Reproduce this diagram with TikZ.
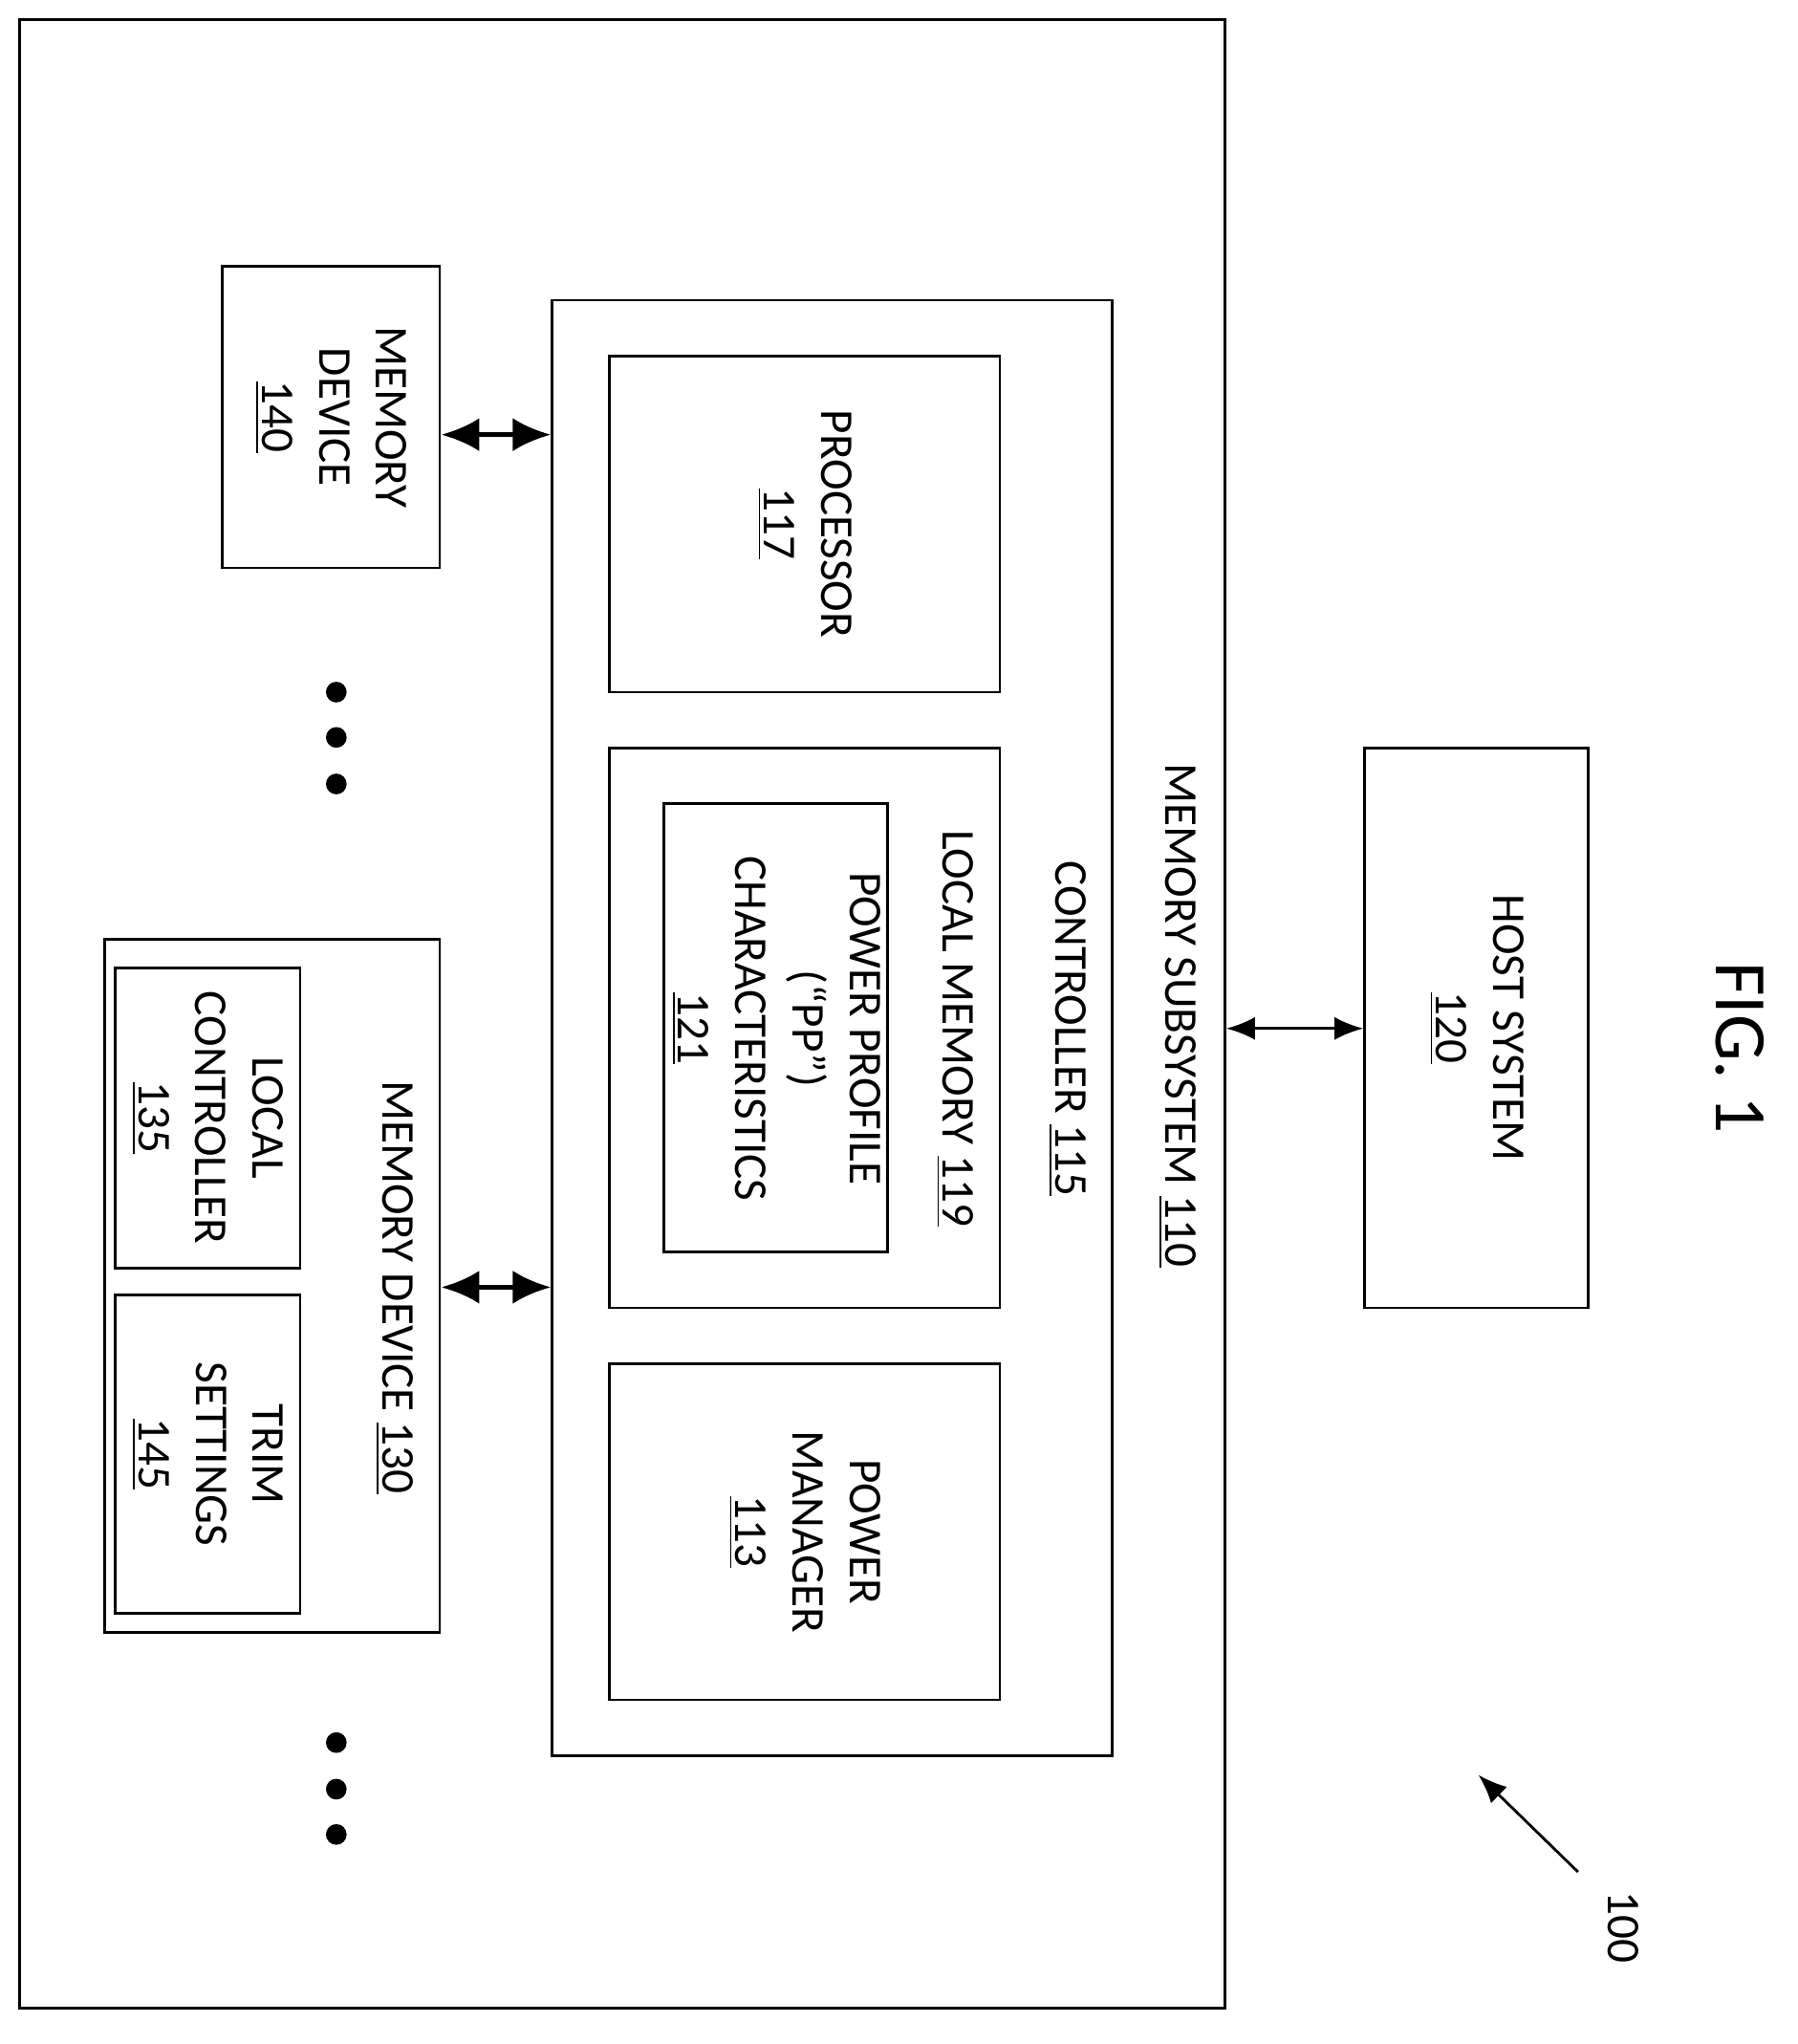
\documentclass[tikz,border=0pt]{standalone}
\usepackage{fontspec}
\setmainfont{Carlito}
\usetikzlibrary{fit, positioning, arrows.meta}

\tikzset{
  box/.style = {draw, thick, inner sep=0pt},
  lbl/.style = {rotate=-90, align=center, font=\fontsize{14}{17}\selectfont},
  bus/.style = {{Latex[length=4mm,width=3.5mm]}-{Latex[length=4mm,width=3.5mm]}, line width=1.6pt},
  link/.style = {{Latex[length=3mm,width=2.4mm]}-{Latex[length=3mm,width=2.4mm]}, thick},
}

\begin{document}
\begin{tikzpicture}[x=0.1353mm, y=-0.1353mm]
    \useasboundingbox (0,0) rectangle (1390,1580);

    \node[box, fit={(15,15) (947,1552)}] (system) {};
    \node[box, fit={(427,232) (860,1357)}] (ctrl) {};
    \node[lbl] (subsyslbl) at (910,785) {MEMORY SUBSYSTEM \underline{110}};
    \node[lbl] (ctrllbl) at (825,795) {CONTROLLER \underline{115}};

    \node[box, fit={(471,275) (773,535)}] (proc) {};
    \node[lbl] at (proc.center) {PROCESSOR\\\underline{117}};

    \node[box, fit={(471,578) (773,1011)}] (locmem) {};
    \node[lbl] (locmemlbl) at (738,795) {LOCAL MEMORY \underline{119}};
    \node[box, fit={(513,621) (686,968)}] (ppchar) {};
    \node[lbl] at (600,795) {POWER PROFILE\\(``PP'')\\CHARACTERISTICS\\\underline{121}};

    \node[box, fit={(471,1054) (773,1314)}] (pwrmgr) {};
    \node[lbl] at (pwrmgr.center) {POWER\\MANAGER\\\underline{113}};

    \node[box, fit={(172,206) (340,439)}] (mem140) {};
    \node[lbl] at (mem140.center) {MEMORY\\DEVICE\\\underline{140}};

    \node[box, fit={(81,726) (340,1262)}] (mem130) {};
    \node[lbl] (mem130lbl) at (305,995) {MEMORY DEVICE \underline{130}};
    \node[box, fit={(89,748) (232,980)}] (locctrl) {};
    \node[lbl] at (locctrl.center) {LOCAL\\CONTROLLER\\\underline{135}};
    \node[box, fit={(89,1001) (232,1247)}] (trim) {};
    \node[lbl] at (trim.center) {TRIM\\SETTINGS\\\underline{145}};

    \node[box, fit={(1055,578) (1228,1011)}] (host) {};
    \node[lbl] at (host.center) {HOST SYSTEM\\\underline{120}};

    % connections
    \coordinate (m140) at (mem140.east |- 0,336);
    \coordinate (c140) at (ctrl.west |- 0,336);
    \coordinate (m130) at (mem130.east |- 0,995);
    \coordinate (c130) at (ctrl.west |- 0,995);
    \coordinate (s120) at (system.east |- 0,795);
    \coordinate (h120) at (host.west |- 0,795);
    \draw[bus] (m140) -- (c140);
    \draw[bus] (m130) -- (c130);
    \draw[link] (s120) -- (h120);

    % ellipses
    \foreach \y in {535,570,606,1347,1383,1418}
        \fill (260,\y) circle (8);

    \node[lbl, font=\fontsize{22}{26}\selectfont] (fig) at (1345,810) {FIG. 1};
    \node[lbl] (ref) at (1255,1490) {100};
    \coordinate (reftip) at (1143,1372);
    \draw[-{Latex[length=3mm,width=2.4mm]}, thick] (1220,1447) -- (reftip);
\end{tikzpicture}
\end{document}
